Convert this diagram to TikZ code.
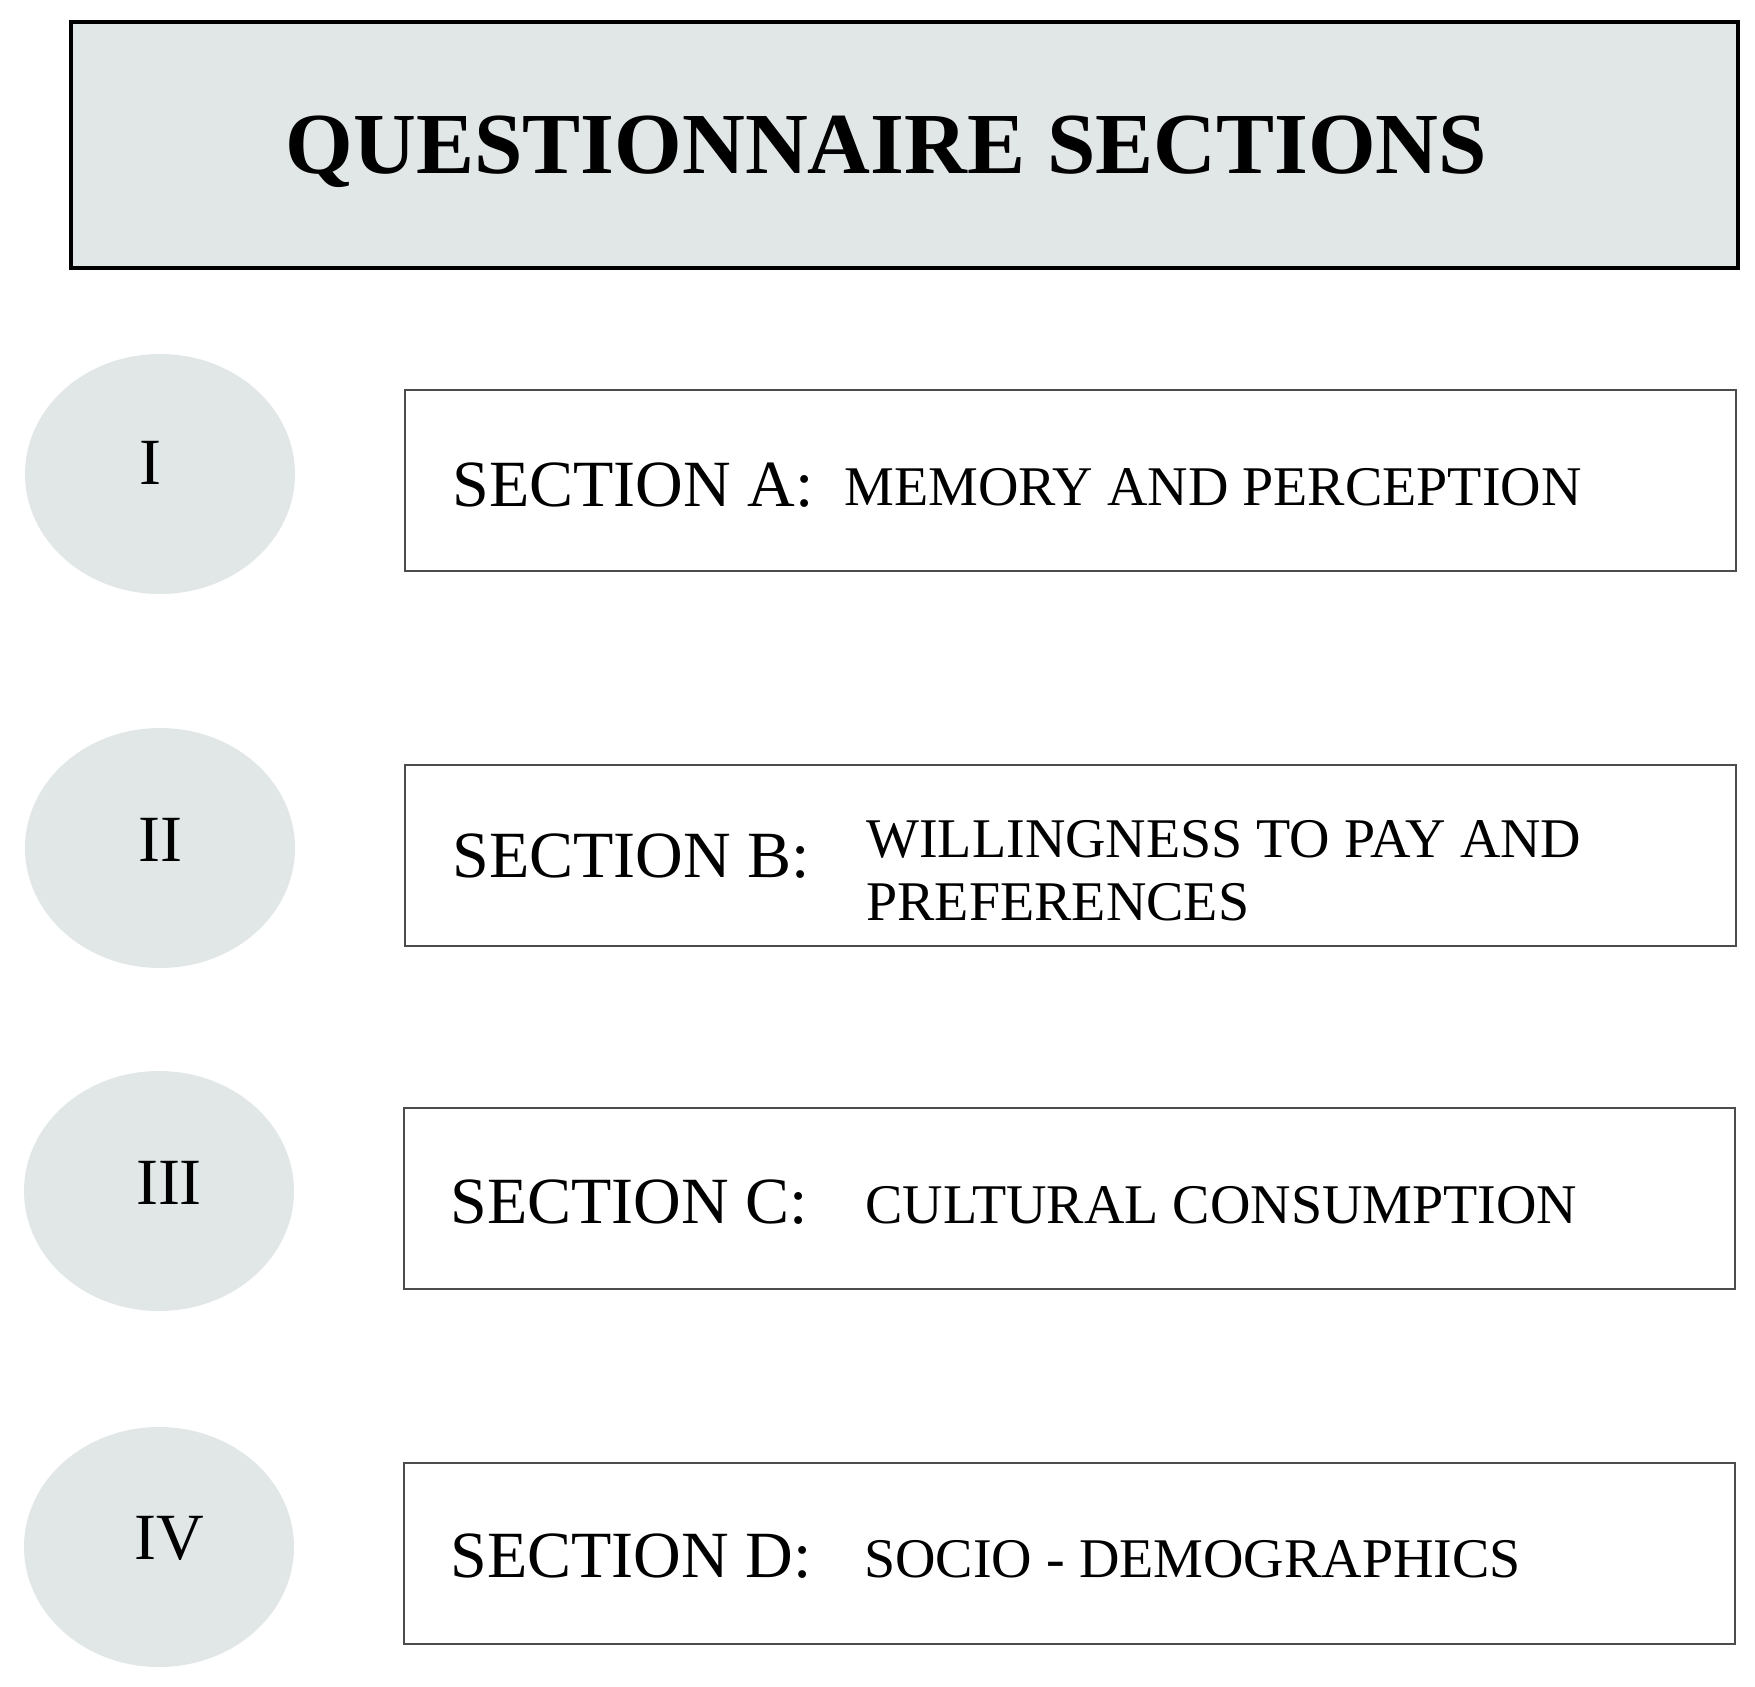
\documentclass[tikz,border=0pt]{standalone}
\usepackage{fontspec}
\setmainfont{Liberation Serif}
\usetikzlibrary{shapes.geometric}
\definecolor{paleblue}{RGB}{225,231,231}
\tikzstyle{headbox} = [draw=black, line width=1.75pt, fill=paleblue, minimum width=833.5pt, minimum height=122.75pt, text depth=0pt, font={\fontsize{43.5}{48}\selectfont\bfseries}]
\tikzstyle{secbox} = [draw=black!70, line width=1pt, minimum width=665.5pt, minimum height=90.5pt]
\tikzstyle{disc} = [ellipse, fill=paleblue, minimum width=135pt, minimum height=120pt]
\tikzstyle{num} = [anchor=base, inner sep=0pt, font={\fontsize{33}{36}\selectfont}]
\tikzstyle{seclabel} = [anchor=base west, inner sep=0pt, font={\fontsize{33}{37}\selectfont}]
\tikzstyle{sectopic} = [anchor=base west, inner sep=0pt, font={\fontsize{28}{32}\selectfont}]

\begin{document}
\begin{tikzpicture}[x=0.5pt,y=-0.5pt]
    \useasboundingbox (0,0) rectangle (1755,1686);
    \node[headbox](title) at (904.5,145){QUESTIONNAIRE SECTIONS\hspace*{18pt}};
    % numbered discs
    \node[disc](d1) at (160,474){};
    \node[disc](d2) at (160,848){};
    \node[disc](d3) at (159,1191){};
    \node[disc](d4) at (159,1547){};
    \node[num](n1) at (150,484){I};
    \node[num](n2) at (160,861){II};
    \node[num](n3) at (169,1204){III};
    \node[num](n4) at (169,1559){IV};
    % section boxes
    \node[secbox](A) at (1070.5,480.5){};
    \node[secbox](B) at (1070.5,855){};
    \node[secbox](C) at (1069.5,1198){};
    \node[secbox](D) at (1069.5,1553){};
    \node[seclabel](la) at (452,506){SECTION A:};
    \node[sectopic](ta) at (844,505){MEMORY AND PERCEPTION};
    \node[seclabel](lb) at (452,877){SECTION B:};
    \node[sectopic](tb) at (866,857){WILLINGNESS TO PAY AND};
    \node[sectopic](tb2) at (866,920){PREFERENCES};
    \node[seclabel](lc) at (450,1223){SECTION C:};
    \node[sectopic](tc) at (865,1223){CULTURAL CONSUMPTION};
    \node[seclabel](ld) at (450,1577){SECTION D:};
    \node[sectopic](td) at (864,1577){SOCIO - DEMOGRAPHICS};
  \end{tikzpicture}
\end{document}
